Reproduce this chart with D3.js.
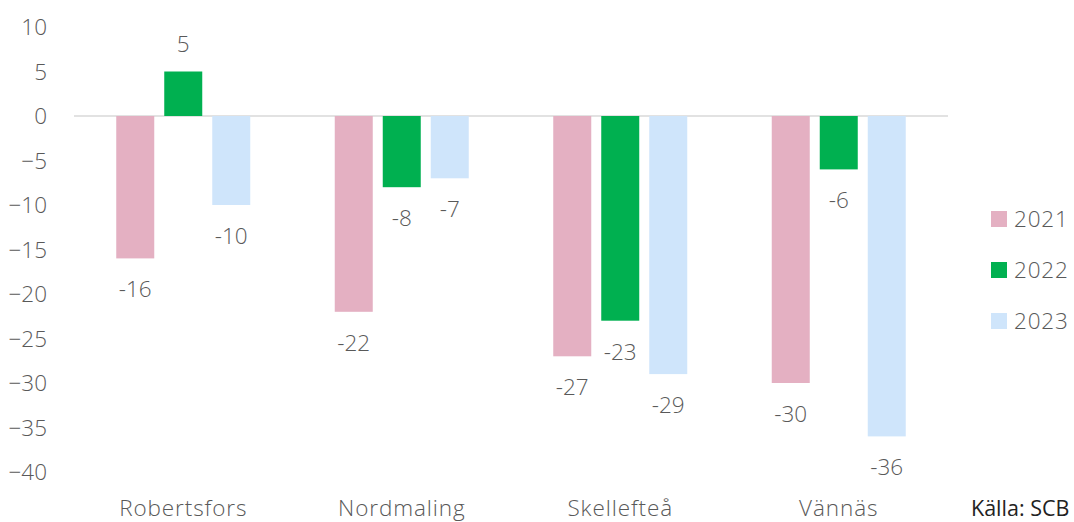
<!DOCTYPE html>
<html><head><meta charset="utf-8">
<script src="https://cdn.jsdelivr.net/npm/d3@7"></script>
<style>body{margin:0;background:#fff}svg{display:block}text{font-family:"Open Sans",Lato,sans-serif;font-weight:300}</style>
</head><body><svg id="c" width="1074" height="522"></svg>
<script>
const categories = ["Robertsfors","Nordmaling","Skellefteå","Vännäs"];
const seriesNames = ["2021","2022","2023"];
const values2021 = [-16,-22,-27,-30];
const values2022 = [5,-8,-23,-6];
const values2023 = [-10,-7,-29,-36];
const yTicks = [10,5,0,-5,-10,-15,-20,-25,-30,-35,-40];
const colors = ["#E4B0C2","#00B050","#CFE5FB"];
const series = [values2021, values2022, values2023];

(function(){
const svg = d3.select("#c");
const pL = 74, pR = 948, pT = 27, pB = 472;
const fs = "22.5px";
const y = d3.scaleLinear().domain([-40,10]).range([pB, pT]);
const x0 = d3.scaleBand().domain(categories).range([pL, pR]).paddingInner(0).paddingOuter(0);
const bw = x0.bandwidth(), grp = 134;
const x1 = d3.scaleBand().domain(seriesNames).range([(bw-grp)/2, (bw+grp)/2]).paddingInner(10/48).paddingOuter(0);
const txt = "#595959";

const yAxis = d3.axisLeft(y).tickValues(yTicks).tickSize(0).tickPadding(0);
const ga = svg.append("g").attr("transform", `translate(47,0)`).call(yAxis);
ga.select(".domain").remove();
ga.selectAll("text").attr("fill", txt).style("font-size",fs).attr("dy","0.35em");

svg.append("line").attr("x1", pL).attr("x2", pR).attr("y1", y(0)).attr("y2", y(0))
  .attr("stroke", "#D9D9D9").attr("stroke-width", 1.5);

series.forEach((vals, si) => {
  const g = svg.append("g");
  vals.forEach((v, ci) => {
    const xx = x0(categories[ci]) + x1(seriesNames[si]);
    const w = x1.bandwidth();
    g.append("rect").attr("x", xx).attr("width", w)
      .attr("y", Math.min(y(v), y(0))).attr("height", Math.abs(y(v) - y(0)))
      .attr("fill", colors[si]);
    g.append("text").attr("x", xx + w/2)
      .attr("y", v >= 0 ? y(v) - 27 : y(v) + 31)
      .attr("dy", "0.35em")
      .attr("text-anchor","middle").attr("fill", txt).style("font-size",fs).text(v);
  });
});

const xAxis = d3.axisBottom(x0).tickSize(0).tickPadding(0);
const gx = svg.append("g").attr("transform", `translate(0,515.5)`).call(xAxis);
gx.select(".domain").remove();
gx.selectAll("text").attr("fill", txt).style("font-size",fs).style("letter-spacing","0.9px").attr("dy","0");

const lg = svg.append("g");
seriesNames.forEach((s, i) => {
  const cy = 219 + i * 51;
  lg.append("rect").attr("x", 991).attr("y", cy - 8).attr("width", 16).attr("height", 16).attr("fill", colors[i]);
  lg.append("text").attr("x", 1014).attr("y", cy).attr("dy","0.35em").attr("fill", txt).style("font-size",fs).style("letter-spacing","0.8px").text(s);
});

svg.append("text").attr("x", 971).attr("y", 516).attr("fill", "#222")
  .style("font-size","21.5px").style("font-weight","400").text("Källa: SCB");
})();
</script></body></html>
